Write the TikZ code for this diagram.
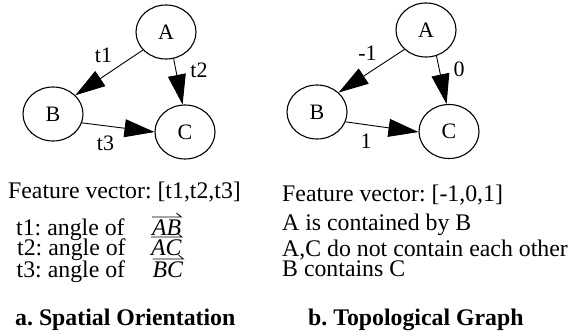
\documentclass[tikz,border=0pt]{standalone}
\usepackage{fontspec}
\setmainfont{Liberation Serif}
\usetikzlibrary{shapes.geometric,arrows.meta}
\frenchspacing
\begin{document}
\begin{tikzpicture}[x=1pt,y=-1pt,
  nd/.style={draw, ellipse, line width=1.1pt, minimum width=60pt, minimum height=54pt, inner sep=0pt, font=\fontsize{22}{26}\selectfont},
  arr/.style={line width=0.9pt, -{Triangle[length=30pt,width=18pt]}},
  lab/.style={anchor=base, inner sep=0pt, font=\fontsize{22}{26}\selectfont},
  txt/.style={anchor=base west, inner sep=0pt, font=\fontsize{23.8}{26}\selectfont},
  ttl/.style={anchor=base west, inner sep=0pt, font=\fontsize{23.8}{26}\selectfont\bfseries},
  vec/.style={line width=0.8pt}]
\useasboundingbox (0,0) rectangle (569,335);
% left graph
\node[nd] (A1) at (166,32) {A};
\node[nd] (B1) at (53,114) {B};
\node[nd] (C1) at (185,132) {C};
\draw[arr] (A1.218) -- (B1.40);
\draw[arr] (A1.286) -- (C1.95);
\draw[arr] (B1.343) -- (C1.180);
\node[lab] (t1) at (103.5,62.7) {t1};
\node[lab] (t2) at (199,77.3) {t2};
\node[lab] (t3) at (105.5,150) {t3};
% right graph
\node[nd] (A2) at (426,30) {A};
\node[nd] (B2) at (317,112) {B};
\node[nd] (C2) at (449,131.5) {C};
\draw[arr] (A2.222) -- (B2.42);
\draw[arr] (A2.292) -- (C2.95);
\draw[arr] (B2.341) -- (C2.181);
\node[lab] (m1) at (367.5,60) {-1};
\node[lab] (z0) at (459,76) {0};
\node[lab] (p1) at (366,148.3) {1};
% left text
\node[txt] (fv1) at (8,198) {Feature vector: [t1,t2,t3]};
\node[txt] (l1) at (16,235) {t1: angle of};
\node[txt] (l2) at (17,255) {t2: angle of};
\node[txt] (l3) at (16.5,277) {t3: angle of};
\node[txt] (vAB) at (152,235) {\textit{AB}};
\node[txt] (vAC) at (151,255) {\textit{AC}};
\node[txt] (vBC) at (152.5,277) {\textit{BC}};
\foreach \v in {vAB,vAC,vBC}{
  \draw[vec] ([yshift=2pt]\v.north west) -- ([yshift=2pt]\v.north east) -- ++(-5,-4);
}
\node[ttl] (ta) at (15,325) {a. Spatial Orientation};
% right text
\node[txt] (fv2) at (282,201) {Feature vector: [-1,0,1]};
\node[txt] (r1) at (282,230) {A is contained by B};
\node[txt] (r2) at (282,256) {A,C do not contain each other};
\node[txt] (r3) at (282,276) {B contains C};
\node[ttl] (tb) at (308,325) {b. Topological Graph};
\end{tikzpicture}
\end{document}
